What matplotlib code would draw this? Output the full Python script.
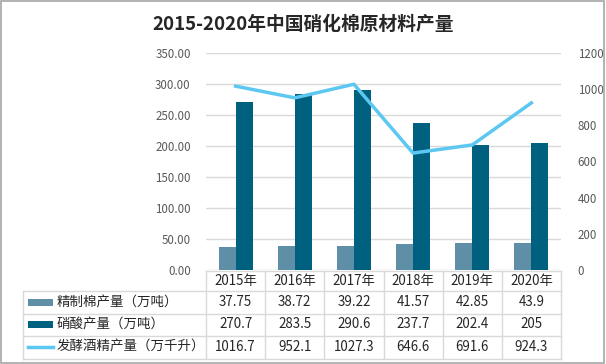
import matplotlib
matplotlib.use("Agg")
import matplotlib.pyplot as plt
from matplotlib.lines import Line2D
from matplotlib.patches import Rectangle
import matplotlib.transforms as mtransforms

plt.rcParams['font.family'] = ['Noto Sans CJK SC', 'DejaVu Sans']
plt.rcParams['axes.unicode_minus'] = False

# ---- 数据 ----
years = ['2015年', '2016年', '2017年', '2018年', '2019年', '2020年']
cotton = [37.75, 38.72, 39.22, 41.57, 42.85, 43.9]        # 精制棉产量（万吨）
nitric = [270.7, 283.5, 290.6, 237.7, 202.4, 205]          # 硝酸产量（万吨）
alcohol = [1016.7, 952.1, 1027.3, 646.6, 691.6, 924.3]     # 发酵酒精产量（万千升）
cotton_txt = ['37.75', '38.72', '39.22', '41.57', '42.85', '43.9']
nitric_txt = ['270.7', '283.5', '290.6', '237.7', '202.4', '205']
alcohol_txt = ['1016.7', '952.1', '1027.3', '646.6', '691.6', '924.3']
series_names = ['精制棉产量（万吨）', '硝酸产量（万吨）', '发酵酒精产量（万千升）']

c_cotton = '#5f8fa7'
c_nitric = '#00607f'
c_alcohol = '#5cc8f2'
grid_c = '#d9d9d9'
tick_c = '#595959'

W, H = 606, 364
fig = plt.figure(figsize=(W / 100, H / 100), dpi=100)


def fx(px):
    return px / W


def fy(py):
    return 1 - py / H


ax = fig.add_axes([fx(206), fy(270), fx(561) - fx(206), fy(53) - fy(270)])
x = list(range(len(years)))
bw = 0.287
ax.bar([i - bw / 2 for i in x], cotton, width=bw, color=c_cotton, zorder=2)
ax.bar([i + bw / 2 for i in x], nitric, width=bw, color=c_nitric, zorder=2)
ax.set_xlim(-0.5, len(years) - 0.5)
ax.set_ylim(0, 350)
ax.set_yticks(range(0, 351, 50))
ax.set_yticklabels(['%.2f' % v for v in range(0, 351, 50)])
ax.yaxis.grid(True, color=grid_c, lw=1, zorder=0)
ax.set_xticks([])
ax.tick_params(axis='y', length=0, pad=11, labelsize=8.3, labelcolor=tick_c)
for s in ax.spines.values():
    s.set_visible(False)

ax2 = ax.twinx()
ax2.plot(x, alcohol, color=c_alcohol, lw=2.5, zorder=3)
ax2.set_ylim(0, 1200)
ax2.set_yticks(range(0, 1201, 200))
ax2.tick_params(axis='y', length=0, pad=12, labelsize=8.3, labelcolor=tick_c)
for s in ax2.spines.values():
    s.set_visible(False)

fig.suptitle('2015-2020年中国硝化棉原材料产量', x=0.5, y=fy(24), va='center',
             fontsize=13.5, fontweight='bold', color='#262626')

# ---- 数据表 ----
rows_y = [271, 291, 313.5, 335.5, 358.5]
left_px = 23
trans = mtransforms.blended_transform_factory(ax.transData, fig.transFigure)
x0d, x1d = ax.get_xlim()

# 横线
fig.add_artist(Line2D([x0d, x1d], [fy(rows_y[0])] * 2, transform=trans, color=grid_c, lw=1))
for ry in rows_y[1:]:
    fig.add_artist(Line2D([fx(left_px), fx(561)], [fy(ry)] * 2, color=grid_c, lw=1))
# 竖线
fig.add_artist(Line2D([fx(left_px)] * 2, [fy(rows_y[1]), fy(rows_y[-1])], color=grid_c, lw=1))
for i in range(len(years) + 1):
    xb = i - 0.5
    fig.add_artist(Line2D([xb, xb], [fy(rows_y[0]), fy(rows_y[-1])],
                          transform=trans, color=grid_c, lw=1))

txt_kw = dict(ha='center', va='center', fontsize=9.6, color='#262626')
for i, yr in enumerate(years):
    fig.text(i, fy((rows_y[0] + rows_y[1]) / 2), yr, transform=trans, **txt_kw)

table_vals = [cotton_txt, nitric_txt, alcohol_txt]
for r, vals in enumerate(table_vals):
    cy = fy((rows_y[r + 1] + rows_y[r + 2]) / 2)
    for i, v in enumerate(vals):
        fig.text(i, cy, v, transform=trans, **txt_kw)
    fig.text(fx(57), cy, series_names[r], ha='left', va='center',
             fontsize=9.7, color='#262626')

# 表格图例
for r, col in enumerate([c_cotton, c_nitric]):
    cy = (rows_y[r + 1] + rows_y[r + 2]) / 2
    fig.add_artist(Rectangle((fx(28), fy(cy + 3.5)), fx(25), fy(0) - fy(7),
                             color=col, lw=0))
cy = (rows_y[3] + rows_y[4]) / 2
fig.add_artist(Line2D([fx(28), fx(53)], [fy(cy)] * 2, color=c_alcohol, lw=2.5))

# 外边框
fig.add_artist(Rectangle((fx(1), fy(362.5)), fx(603), fy(0) - fy(361.5),
                         fill=False, ec='#a6a6a6', lw=1.2))

fig.savefig('out.png', dpi=100)
